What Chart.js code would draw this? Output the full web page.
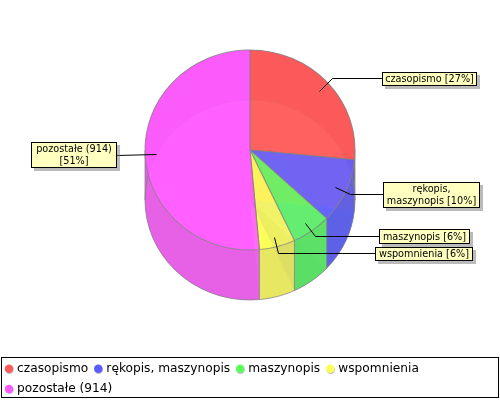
<!DOCTYPE html>
<html>
<head>
<meta charset="utf-8">
<script src="https://cdn.jsdelivr.net/npm/chart.js@4"></script>
<style>
  html, body { margin: 0; padding: 0; background: #fff; }
  canvas { display: block; }
</style>
</head>
<body>
<canvas id="chart" width="500" height="400"></canvas>
<script>
const categories = ['czasopismo', 'rękopis, maszynopis', 'maszynopis', 'wspomnienia', 'pozostałe (914)'];
const counts = [472, 185, 108, 98, 914];
const calloutLabels = [
  ['czasopismo [27%]'],
  ['rękopis,', 'maszynopis [10%]'],
  ['maszynopis [6%]'],
  ['wspomnienia [6%]'],
  ['pozostałe (914)', '[51%]']
];

const faceColors = ['rgba(255,90,90,0.88)', 'rgba(95,95,255,0.88)', 'rgba(95,250,95,0.88)', 'rgba(255,255,85,0.88)', 'rgba(255,90,255,0.88)'];
const solidColors = ['#ff5a5a', '#5a5aff', '#5aff5a', '#ffff5a', '#ff5aff'];
const wallColors = ['#e65a5a', '#5a5fe6', '#5ae65f', '#e6e65f', '#e65fe6'];
const baseColors = ['#ff8c8c', '#8c8cff', '#6e6ec8', '#ffff8c', '#ff8cff'];

// pie geometry on the page
const CX = 250, CY = 150, DEPTH = 50, SQUASH = 1.05;
const EDGE = 'rgba(130,130,130,0.75)';

// leader line points and note box per slice: [x, y] ... , box [l, t, r, b]
const notes = [
  { line: [[319, 91], [332, 78], [382, 78]], box: [382, 72, 476, 85] },
  { line: [[335, 187], [350, 194], [383, 194]], box: [383, 182, 479, 207] },
  { line: [[305, 223], [315, 236], [379, 236]], box: [379, 229, 469, 243] },
  { line: [[274, 237], [278, 253], [375, 253]], box: [375, 247, 472, 260] },
  { line: [[156, 154], [116, 155]], box: [31, 142, 116, 167] }
];

function pt(arc, angle, dz) {
  return [CX + Math.cos(angle) * arc.outerRadius * SQUASH, CY + dz + Math.sin(angle) * arc.outerRadius];
}

function sectorPath(ctx, arc, dz) {
  ctx.beginPath();
  ctx.moveTo(CX, CY + dz);
  ctx.ellipse(CX, CY + dz, arc.outerRadius * SQUASH, arc.outerRadius, 0, arc.startAngle, arc.endAngle);
  ctx.closePath();
}

// a wall piece has to stay on one side of the ellipse's left and right ends
function wallPieces(arc) {
  const cuts = [arc.startAngle];
  [0, Math.PI].forEach(c => {
    if (c > arc.startAngle && c < arc.endAngle) cuts.push(c);
  });
  cuts.push(arc.endAngle);
  return cuts.slice(1).map((end, k) => [cuts[k], end]);
}

function wallPath(ctx, arc, from, to) {
  const rx = arc.outerRadius * SQUASH, ry = arc.outerRadius;
  ctx.beginPath();
  ctx.ellipse(CX, CY, rx, ry, 0, from, to);
  ctx.ellipse(CX, CY + DEPTH, rx, ry, 0, to, from, true);
  ctx.closePath();
}

const pie3d = {
  id: 'pie3d',
  beforeDraw(chart) {
    // soft grey under the legend dots
    const ctx = chart.ctx;
    ctx.save();
    ctx.fillStyle = 'rgba(150,150,150,0.6)';
    chart.legend.legendHitBoxes.forEach(b => {
      ctx.beginPath();
      ctx.arc(b.left + 2.5, b.top + b.height / 2 + 1, 4.2, 0, Math.PI * 2);
      ctx.fill();
    });
    ctx.restore();
  },
  beforeDatasetsDraw(chart) {
    const ctx = chart.ctx;
    const arcs = chart.getDatasetMeta(0).data;
    ctx.save();
    // bottom face and walls, seen through the top
    arcs.forEach((arc, i) => {
      ctx.fillStyle = baseColors[i];
      sectorPath(ctx, arc, DEPTH);
      ctx.fill();
    });
    arcs.forEach((arc, i) => {
      ctx.fillStyle = wallColors[i];
      ctx.globalAlpha = 0.94;
      wallPieces(arc).forEach(([from, to]) => {
        wallPath(ctx, arc, from, to);
        ctx.fill();
      });
      ctx.globalAlpha = 1;
    });
    // cut walls, very faint
    arcs.forEach((arc, i) => {
      const a = pt(arc, arc.startAngle, 0);
      const b = pt(arc, arc.startAngle, DEPTH);
      ctx.fillStyle = wallColors[i];
      ctx.globalAlpha = 0.06;
      ctx.beginPath();
      ctx.moveTo(CX, CY);
      ctx.lineTo(a[0], a[1]);
      ctx.lineTo(b[0], b[1]);
      ctx.lineTo(CX, CY + DEPTH);
      ctx.closePath();
      ctx.fill();
      ctx.globalAlpha = 1;
    });
    ctx.strokeStyle = EDGE;
    ctx.lineWidth = 1;
    // outline of the base, both side edges and the vertical seams
    const rx = arcs[0].outerRadius * SQUASH;
    ctx.beginPath();
    ctx.ellipse(CX, CY + DEPTH, rx, arcs[0].outerRadius, 0, 0, Math.PI * 2);
    ctx.moveTo(CX - rx, CY);
    ctx.lineTo(CX - rx, CY + DEPTH);
    ctx.moveTo(CX + rx, CY);
    ctx.lineTo(CX + rx, CY + DEPTH);
    ctx.stroke();
    arcs.forEach(arc => {
      const a = pt(arc, arc.startAngle, 0);
      const b = pt(arc, arc.startAngle, DEPTH);
      if (Math.sin(arc.startAngle) > -0.2) {
        ctx.beginPath();
        ctx.moveTo(a[0], a[1]);
        ctx.lineTo(b[0], b[1]);
        ctx.stroke();
      }
    });
    ctx.restore();

    // the top face is drawn by Chart.js itself, moved and stretched
    const first = arcs[0];
    ctx.save();
    ctx.translate(CX, CY);
    ctx.scale(SQUASH, 1);
    ctx.translate(-first.x, -first.y);
  },
  afterDatasetsDraw(chart) {
    const ctx = chart.ctx;
    ctx.restore();
    ctx.save();
    // leader lines
    ctx.strokeStyle = '#000';
    ctx.lineWidth = 1;
    notes.forEach(n => {
      ctx.beginPath();
      n.line.forEach((p, k) => k ? ctx.lineTo(p[0] + 0.5, p[1] + 0.5) : ctx.moveTo(p[0] + 0.5, p[1] + 0.5));
      ctx.stroke();
    });
    // note boxes
    ctx.font = '9.7px "DejaVu Sans"';
    ctx.textAlign = 'center';
    ctx.textBaseline = 'middle';
    notes.forEach((n, i) => {
      const [l, t, r, b] = n.box;
      ctx.fillStyle = 'rgba(120,120,120,0.5)';
      ctx.fillRect(l + 3, t + 3, r - l + 1, b - t + 1);
      ctx.fillStyle = '#ffffc0';
      ctx.fillRect(l, t, r - l, b - t);
      ctx.strokeStyle = '#000';
      ctx.strokeRect(l + 0.5, t + 0.5, r - l, b - t);
      ctx.fillStyle = '#000';
      const lines = calloutLabels[i];
      const lh = 11.7;
      lines.forEach((s, k) => {
        ctx.fillText(s, (l + r) / 2 + 0.5, (t + b) / 2 + 1 + (k - (lines.length - 1) / 2) * lh);
      });
    });
    // legend frame
    ctx.strokeStyle = '#000';
    ctx.strokeRect(1.5, 357.5, 497, 40);
    ctx.restore();
  }
};

new Chart(document.getElementById('chart'), {
  type: 'pie',
  data: {
    labels: categories,
    datasets: [{
      data: counts,
      backgroundColor: faceColors,
      borderColor: EDGE,
      borderWidth: 1,
      radius: 100
    }]
  },
  options: {
    responsive: false,
    animation: false,
    devicePixelRatio: 1,
    layout: { padding: { left: -1, bottom: -5 } },
    plugins: {
      tooltip: { enabled: false },
      legend: {
        position: 'bottom',
        align: 'start',
        labels: {
          usePointStyle: true,
          pointStyle: 'circle',
          boxWidth: 4,
          boxHeight: 6,
          padding: 8,
          color: '#000',
          font: { family: '"DejaVu Sans"', size: 12.2 },
          generateLabels: () => categories.map((text, i) => ({
            text,
            fillStyle: solidColors[i],
            strokeStyle: solidColors[i],
            lineWidth: 0,
            pointStyle: 'circle',
            index: i
          }))
        }
      }
    }
  },
  plugins: [pie3d]
});
</script>
</body>
</html>
